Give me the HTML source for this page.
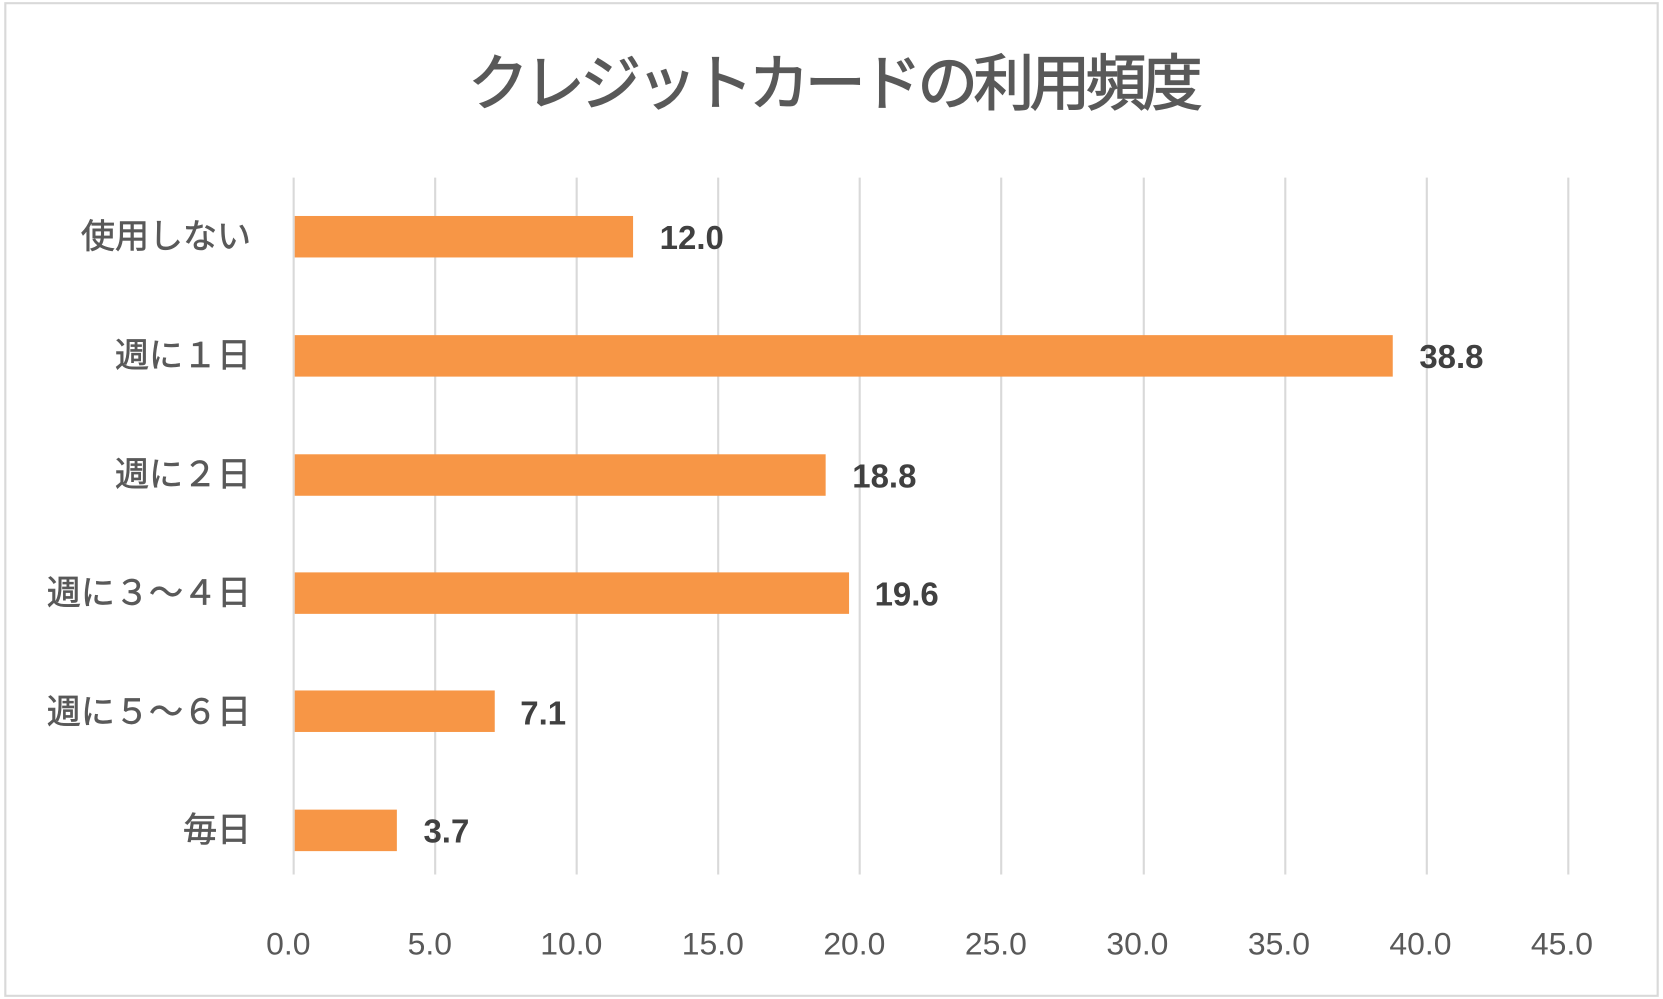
<!DOCTYPE html>
<html><head><meta charset="utf-8"><style>
html,body{margin:0;padding:0;background:#fff;}
svg{display:block;}
text{font-family:"Liberation Sans","Noto Sans CJK JP",sans-serif;}
</style></head><body>
<svg width="1663" height="999" viewBox="0 0 1563 939" preserveAspectRatio="none" xmlns="http://www.w3.org/2000/svg">
<rect x="0" y="0" width="1563" height="939" fill="#fff"/>
<rect x="5" y="3" width="1553" height="933" fill="#fff" stroke="#d9d9d9" stroke-width="2"/>
<text x="783" y="98" text-anchor="middle" font-size="57" fill="#595959" stroke="#595959" stroke-width="1.2" style="letter-spacing:-4.2px">クレジットカードの利用頻度</text>
<g stroke="#d9d9d9" stroke-width="2">
<line x1="276" y1="167" x2="276" y2="822"/>
<line x1="409" y1="167" x2="409" y2="822"/>
<line x1="542" y1="167" x2="542" y2="822"/>
<line x1="675" y1="167" x2="675" y2="822"/>
<line x1="808" y1="167" x2="808" y2="822"/>
<line x1="941" y1="167" x2="941" y2="822"/>
<line x1="1075" y1="167" x2="1075" y2="822"/>
<line x1="1208" y1="167" x2="1208" y2="822"/>
<line x1="1341" y1="167" x2="1341" y2="822"/>
<line x1="1474" y1="167" x2="1474" y2="822"/>
</g>
<g fill="#f79646">
<rect x="277" y="203" width="318" height="39"/>
<rect x="277" y="315" width="1032" height="39"/>
<rect x="277" y="427" width="499" height="39"/>
<rect x="277" y="538" width="521" height="39"/>
<rect x="277" y="649" width="188" height="39"/>
<rect x="277" y="761" width="96" height="39"/>
</g>
<g font-size="31" font-weight="bold" fill="#404040">
<text x="620" y="234">12.0</text>
<text x="1334" y="346">38.8</text>
<text x="801" y="458">18.8</text>
<text x="822" y="569">19.6</text>
<text x="489" y="681">7.1</text>
<text x="398" y="792">3.7</text>
</g>
<g font-size="32" fill="#595959" stroke="#595959" stroke-width="0.6" text-anchor="end">
<text x="236" y="233">使用しない</text>
<text x="236" y="345">週に１日</text>
<text x="236" y="457">週に２日</text>
<text x="236" y="568">週に３～４日</text>
<text x="236" y="680">週に５～６日</text>
<text x="236" y="791">毎日</text>
</g>
<g font-size="30" fill="#595959" text-anchor="middle">
<text x="271" y="897">0.0</text>
<text x="404" y="897">5.0</text>
<text x="537" y="897">10.0</text>
<text x="670" y="897">15.0</text>
<text x="803" y="897">20.0</text>
<text x="936" y="897">25.0</text>
<text x="1069" y="897">30.0</text>
<text x="1202" y="897">35.0</text>
<text x="1335" y="897">40.0</text>
<text x="1468" y="897">45.0</text>
</g>
</svg>
</body></html>
